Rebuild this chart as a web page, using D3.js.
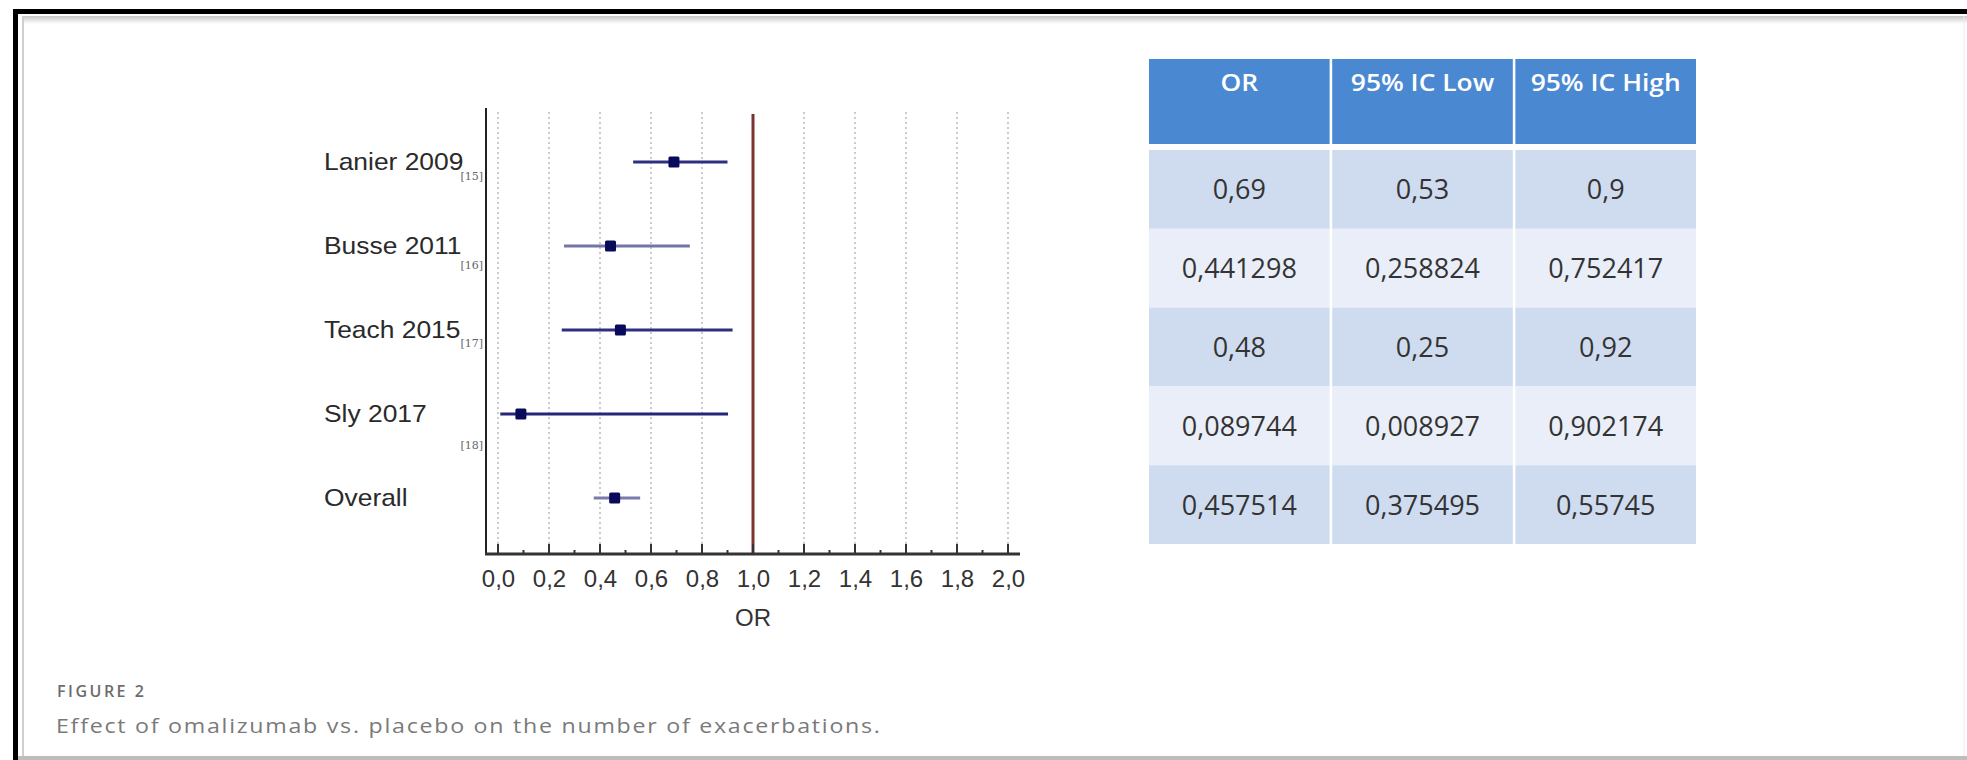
<!DOCTYPE html>
<html>
<head>
<meta charset="utf-8">
<script src="https://cdn.jsdelivr.net/npm/d3@7"></script>
<style>
  html, body { margin: 0; padding: 0; background: #fff; }
  svg { display: block; }
</style>
</head>
<body>
<script>
// Studies in the forest plot, top to bottom
const studies = ["Lanier 2009", "Busse 2011", "Teach 2015", "Sly 2017", "Overall"];
const refs = ["[15]", "[16]", "[17]", "[18]", ""];
// Odds ratios and 95% confidence limits
const orValues = [0.69, 0.441298, 0.48, 0.089744, 0.457514];
const ciLow = [0.53, 0.258824, 0.25, 0.008927, 0.375495];
const ciHigh = [0.9, 0.752417, 0.92, 0.902174, 0.55745];
// Table text as printed
const tableHeaders = ["OR", "95% IC Low", "95% IC High"];
const orText = ["0,69", "0,441298", "0,48", "0,089744", "0,457514"];
const lowText = ["0,53", "0,258824", "0,25", "0,008927", "0,375495"];
const highText = ["0,9", "0,752417", "0,92", "0,902174", "0,55745"];
// Axis
const xTicks = [0, 0.2, 0.4, 0.6, 0.8, 1.0, 1.2, 1.4, 1.6, 1.8, 2.0];
const xMinorTicks = [0.1, 0.3, 0.5, 0.7, 0.9, 1.1, 1.3, 1.5, 1.7, 1.9];
const xTitle = "OR";
const figureLabel = "FIGURE 2";
const captionText = "Effect of omalizumab vs. placebo on the number of exacerbations.";

const W = 1967, H = 760;
const svg = d3.select("body").append("svg").attr("width", W).attr("height", H);

// ---- frame ----
svg.append("rect").attr("x", 0).attr("y", 0).attr("width", W).attr("height", H).attr("fill", "#fff");
const shade = svg.append("defs").append("linearGradient").attr("id", "topShade")
  .attr("x1", 0).attr("y1", 0).attr("x2", 0).attr("y2", 1);
shade.append("stop").attr("offset", "0%").attr("stop-color", "#c8c8c8");
shade.append("stop").attr("offset", "100%").attr("stop-color", "#ffffff");
svg.append("rect").attr("x", 23).attr("y", 16).attr("width", W - 23).attr("height", 8).attr("fill", "url(#topShade)");
svg.append("line").attr("x1", 23).attr("x2", 23).attr("y1", 16).attr("y2", 758)
  .attr("stroke", "#cfcfcf").attr("stroke-width", 2);
svg.append("line").attr("x1", 1964).attr("x2", 1964).attr("y1", 16).attr("y2", 758)
  .attr("stroke", "#ececec").attr("stroke-width", 1);
svg.append("rect").attr("x", 18).attr("y", 756).attr("width", W - 18).attr("height", 4).attr("fill", "#bdbdbd");
svg.append("rect").attr("x", 13).attr("y", 9).attr("width", W - 13).attr("height", 5).attr("fill", "#000");
svg.append("rect").attr("x", 13).attr("y", 9).attr("width", 5).attr("height", H - 9).attr("fill", "#000");

// ---- forest plot ----
const x = d3.scaleLinear().domain([0, 2]).range([498, 1008]);
const y = d3.scalePoint().domain(studies).range([162, 498]);
const axisY = 554, plotTop = 108;
const chartFont = "'Liberation Sans', Arial, sans-serif";

const plot = svg.append("g");

// dotted grid
plot.selectAll("line.grid").data(xTicks.filter(t => t !== 1)).join("line")
  .attr("class", "grid")
  .attr("x1", d => x(d)).attr("x2", d => x(d))
  .attr("y1", 112).attr("y2", axisY)
  .attr("stroke", "#a8a8a8").attr("stroke-width", 1.2).attr("stroke-dasharray", "2,3");

// no-effect line
plot.append("line").attr("x1", x(1)).attr("x2", x(1)).attr("y1", 114).attr("y2", axisY)
  .attr("stroke", "#7b3434").attr("stroke-width", 3);

// axes
plot.append("line").attr("x1", 486).attr("x2", 486).attr("y1", plotTop).attr("y2", axisY + 1)
  .attr("stroke", "#222").attr("stroke-width", 2);
const xAxis = d3.axisBottom(x).tickValues(xTicks).tickSize(0).tickPadding(16)
  .tickFormat(d => d3.format(".1f")(d).replace(".", ","));
const gx = plot.append("g").attr("transform", `translate(0,${axisY})`).call(xAxis);
gx.select(".domain").remove();
gx.selectAll("text").attr("font-family", chartFont).attr("font-size", 24).attr("fill", "#333");
plot.append("line").attr("x1", 485).attr("x2", 1020).attr("y1", axisY).attr("y2", axisY)
  .attr("stroke", "#333").attr("stroke-width", 3);
plot.selectAll("line.major").data(xTicks).join("line").attr("class", "major")
  .attr("x1", d => x(d)).attr("x2", d => x(d)).attr("y1", axisY).attr("y2", axisY - 10)
  .attr("stroke", "#333").attr("stroke-width", 2);
plot.selectAll("line.minor").data(xMinorTicks).join("line").attr("class", "minor")
  .attr("x1", d => x(d)).attr("x2", d => x(d)).attr("y1", axisY).attr("y2", axisY - 4)
  .attr("stroke", "#333").attr("stroke-width", 2);
plot.append("text").attr("x", x(1)).attr("y", 626).attr("text-anchor", "middle")
  .attr("font-family", chartFont).attr("font-size", 24).attr("fill", "#333").text(xTitle);

// study labels (left aligned) and reference numbers
plot.selectAll("text.study").data(studies).join("text").attr("class", "study")
  .attr("transform", d => `translate(324,${y(d) + 8}) scale(1.1,1)`)
  .attr("font-family", chartFont).attr("font-size", 24).attr("fill", "#2a2a2a")
  .text(d => d);
const refDy = [18, 23, 17, 35, 0];
plot.selectAll("text.ref").data(refs).join("text").attr("class", "ref")
  .attr("x", 483).attr("y", (d, i) => y(studies[i]) + refDy[i])
  .attr("text-anchor", "end").attr("font-family", "'DejaVu Serif', serif")
  .attr("font-size", 11).attr("fill", "#666").text(d => d);

// confidence intervals and point estimates
const ciColors = ["#2e2e82", "#7474aa", "#2e2e82", "#27277a", "#7a7aac"];
plot.selectAll("line.ci").data(studies).join("line").attr("class", "ci")
  .attr("x1", (d, i) => x(ciLow[i])).attr("x2", (d, i) => x(ciHigh[i]))
  .attr("y1", d => y(d)).attr("y2", d => y(d))
  .attr("stroke", (d, i) => ciColors[i]).attr("stroke-width", 3);
const sq = 11;
plot.selectAll("rect.pt").data(studies).join("rect").attr("class", "pt")
  .attr("x", (d, i) => x(orValues[i]) - sq / 2).attr("y", d => y(d) - sq / 2)
  .attr("width", sq).attr("height", sq).attr("rx", 1.5)
  .attr("fill", "#0a0a5a");

// ---- table ----
const tableFont = "'Open Sans', 'Noto Sans', sans-serif";
const col = d3.scaleBand().domain(tableHeaders).range([1149, 1696]).paddingInner(0.014);
const row = d3.scaleBand().domain(d3.range(studies.length)).range([150, 544]);
const columns = [orText, lowText, highText];
const tbl = svg.append("g");

tbl.selectAll("rect.head").data(tableHeaders).join("rect").attr("class", "head")
  .attr("x", d => col(d)).attr("y", 59).attr("width", col.bandwidth()).attr("height", 85)
  .attr("fill", "#4a89d2");
tbl.selectAll("text.head").data(tableHeaders).join("text").attr("class", "head")
  .attr("transform", d => `translate(${col(d) + col.bandwidth() / 2},91) scale(1.1,1)`)
  .attr("text-anchor", "middle")
  .attr("font-family", tableFont).attr("font-weight", 600).attr("font-size", 24)
  .attr("fill", "#fff").text(d => d);

tableHeaders.forEach((h, c) => {
  tbl.selectAll(null).data(columns[c]).join("rect")
    .attr("x", col(h)).attr("y", (d, i) => row(i)).attr("width", col.bandwidth()).attr("height", row.bandwidth())
    .attr("fill", (d, i) => i % 2 === 0 ? "#cfdcf0" : "#e9eef8");
  tbl.selectAll(null).data(columns[c]).join("text")
    .attr("x", col(h) + col.bandwidth() / 2).attr("y", (d, i) => row(i) + row.bandwidth() / 2 + 10)
    .attr("text-anchor", "middle").attr("font-family", tableFont).attr("font-size", 27)
    .attr("fill", "#333").text(d => d);
});

// ---- caption ----
svg.append("text").attr("x", 57).attr("y", 697)
  .attr("font-family", tableFont).attr("font-weight", 600).attr("font-size", 16)
  .attr("letter-spacing", 2.5).attr("fill", "#6c6c6c").text(figureLabel);
svg.append("text").attr("transform", "translate(56,733) scale(1.16,1)")
  .attr("font-family", tableFont).attr("font-weight", 400).attr("font-size", 20)
  .attr("letter-spacing", 1.5).attr("fill", "#7a7a7a").text(captionText);
</script>
</body>
</html>
